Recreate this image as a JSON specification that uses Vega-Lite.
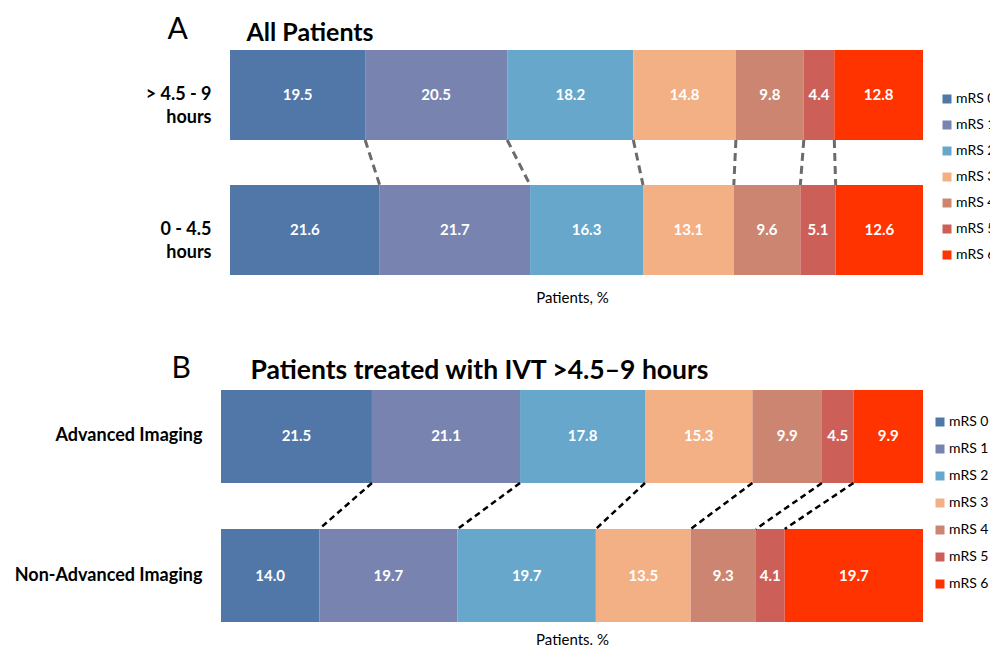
{
  "$schema": "https://vega.github.io/schema/vega-lite/v6.json",
  "background": "white",
  "padding": {"left": 14, "top": 14, "right": 0, "bottom": 0},
  "spacing": 48,
  "config": {
    "font": "Lato",
    "view": {"stroke": null},
    "axis": {"grid": false}
  },
  "datasets": {
    "d": [
      {"panel": "A", "group": "> 4.5 - 9 hours", "row": "top", "mrs": "mRS 0", "value": 19.5},
      {"panel": "A", "group": "> 4.5 - 9 hours", "row": "top", "mrs": "mRS 1", "value": 20.5},
      {"panel": "A", "group": "> 4.5 - 9 hours", "row": "top", "mrs": "mRS 2", "value": 18.2},
      {"panel": "A", "group": "> 4.5 - 9 hours", "row": "top", "mrs": "mRS 3", "value": 14.8},
      {"panel": "A", "group": "> 4.5 - 9 hours", "row": "top", "mrs": "mRS 4", "value": 9.8},
      {"panel": "A", "group": "> 4.5 - 9 hours", "row": "top", "mrs": "mRS 5", "value": 4.4},
      {"panel": "A", "group": "> 4.5 - 9 hours", "row": "top", "mrs": "mRS 6", "value": 12.8},
      {"panel": "A", "group": "0 - 4.5 hours", "row": "bottom", "mrs": "mRS 0", "value": 21.6},
      {"panel": "A", "group": "0 - 4.5 hours", "row": "bottom", "mrs": "mRS 1", "value": 21.7},
      {"panel": "A", "group": "0 - 4.5 hours", "row": "bottom", "mrs": "mRS 2", "value": 16.3},
      {"panel": "A", "group": "0 - 4.5 hours", "row": "bottom", "mrs": "mRS 3", "value": 13.1},
      {"panel": "A", "group": "0 - 4.5 hours", "row": "bottom", "mrs": "mRS 4", "value": 9.6},
      {"panel": "A", "group": "0 - 4.5 hours", "row": "bottom", "mrs": "mRS 5", "value": 5.1},
      {"panel": "A", "group": "0 - 4.5 hours", "row": "bottom", "mrs": "mRS 6", "value": 12.6},
      {"panel": "B", "group": "Advanced Imaging", "row": "top", "mrs": "mRS 0", "value": 21.5},
      {"panel": "B", "group": "Advanced Imaging", "row": "top", "mrs": "mRS 1", "value": 21.1},
      {"panel": "B", "group": "Advanced Imaging", "row": "top", "mrs": "mRS 2", "value": 17.8},
      {"panel": "B", "group": "Advanced Imaging", "row": "top", "mrs": "mRS 3", "value": 15.3},
      {"panel": "B", "group": "Advanced Imaging", "row": "top", "mrs": "mRS 4", "value": 9.9},
      {"panel": "B", "group": "Advanced Imaging", "row": "top", "mrs": "mRS 5", "value": 4.5},
      {"panel": "B", "group": "Advanced Imaging", "row": "top", "mrs": "mRS 6", "value": 9.9},
      {"panel": "B", "group": "Non-Advanced Imaging", "row": "bottom", "mrs": "mRS 0", "value": 14.0},
      {"panel": "B", "group": "Non-Advanced Imaging", "row": "bottom", "mrs": "mRS 1", "value": 19.7},
      {"panel": "B", "group": "Non-Advanced Imaging", "row": "bottom", "mrs": "mRS 2", "value": 19.7},
      {"panel": "B", "group": "Non-Advanced Imaging", "row": "bottom", "mrs": "mRS 3", "value": 13.5},
      {"panel": "B", "group": "Non-Advanced Imaging", "row": "bottom", "mrs": "mRS 4", "value": 9.3},
      {"panel": "B", "group": "Non-Advanced Imaging", "row": "bottom", "mrs": "mRS 5", "value": 4.1},
      {"panel": "B", "group": "Non-Advanced Imaging", "row": "bottom", "mrs": "mRS 6", "value": 19.7}
    ]
  },
  "resolve": {"legend": {"color": "independent"}},
  "vconcat": [
    {
      "width": 702,
      "height": 225,
      "data": {"name": "d"},
      "transform": [{"filter": "datum.panel == 'A'"}],
      "resolve": {"axis": {"x": "independent"}},
      "layer": [
        {
          "mark": {"type": "bar"},
          "encoding": {
            "y": {"field": "group", "type": "nominal", "sort": null,
              "scale": {"paddingInner": 0.3333, "paddingOuter": 0},
              "axis": {"title": "A", "titleAngle": 0, "titleAlign": "left", "titleBaseline": "alphabetic", "titleX": -54, "titleY": -12, "titleFontSize": 30, "titleFontWeight": "normal", "titleColor": "#000",
                "labelFontSize": 18, "labelFontWeight": "bold", "labelColor": "#000", "labelPadding": 10, "labelLimit": 300, "ticks": false, "domain": false, "labelLineHeight": 23,
                "labelExpr": "indexof(datum.label, 'hours') > 0 ? [replace(datum.label, ' hours', ''), 'hours'] : datum.label"}},
            "x": {"field": "value", "type": "quantitative", "stack": "zero",
              "scale": {"domain": [-1.3, 100], "nice": false},
              "axis": {"orient": "bottom", "title": "Patients, %", "labels": false, "ticks": false, "domain": false, "titleFontSize": 15, "titleFontWeight": "normal", "titleColor": "#000", "titlePadding": 15}},
            "order": {"field": "mrs"},
            "color": {"field": "mrs", "type": "nominal",
              "scale": {"domain": ["mRS 0", "mRS 1", "mRS 2", "mRS 3", "mRS 4", "mRS 5", "mRS 6"],
                "range": ["#5176A8", "#7884AF", "#67A7CC", "#F3B084", "#CC8570", "#CD5F59", "#FF3300"]},
              "legend": {"title": null, "orient": "none", "legendX": 719, "legendY": 42, "symbolType": "square", "symbolSize": 81, "symbolStrokeWidth": 0, "labelFontSize": 14, "labelColor": "#000", "rowPadding": 12, "labelOffset": 2}}
          }
        },
        {
          "mark": {"type": "text", "color": "white", "fontWeight": "bold", "fontSize": 15},
          "encoding": {
            "y": {"field": "group", "type": "nominal", "sort": null},
            "x": {"field": "value", "type": "quantitative", "stack": "zero", "bandPosition": 0.5,
              "axis": {"orient": "top", "title": "All Patients", "labels": false, "ticks": false, "domain": false, "titleAnchor": "start", "titleAlign": "left", "titleBaseline": "alphabetic", "titleX": 25, "titleY": -10, "titleFontSize": 25, "titleFontWeight": "bold", "titleColor": "#000"}},
            "order": {"field": "mrs"},
            "detail": {"field": "mrs"},
            "text": {"field": "value", "type": "quantitative", "format": ".1f"}
          }
        },
        {
          "transform": [
            {"stack": "value", "groupby": ["group"], "sort": [{"field": "mrs", "order": "ascending"}], "as": ["x0", "x1"]},
            {"filter": "datum.mrs != 'mRS 6'"},
            {"pivot": "row", "value": "x1", "groupby": ["mrs"]}
          ],
          "mark": {"type": "rule", "color": "#6b6b6b", "strokeWidth": 3, "strokeDash": [8, 5], "yOffset": 45, "y2Offset": -45},
          "encoding": {
            "x": {"field": "top", "type": "quantitative", "axis": null},
            "x2": {"field": "bottom"},
            "y": {"datum": "> 4.5 - 9 hours", "type": "nominal"},
            "y2": {"datum": "0 - 4.5 hours"}
          }
        }
      ]
    },
    {
      "width": 702,
      "height": 232,
      "data": {"name": "d"},
      "transform": [{"filter": "datum.panel == 'B'"}],
      "resolve": {"axis": {"x": "independent"}},
      "layer": [
        {
          "mark": {"type": "bar"},
          "encoding": {
            "y": {"field": "group", "type": "nominal", "sort": null,
              "scale": {"paddingInner": 0.331, "paddingOuter": 0},
              "axis": {"title": "B", "titleAngle": 0, "titleAlign": "left", "titleBaseline": "alphabetic", "titleX": -50, "titleY": -13, "titleFontSize": 30, "titleFontWeight": "normal", "titleColor": "#000",
                "labelFontSize": 18, "labelFontWeight": "bold", "labelColor": "#000", "labelPadding": 19, "labelLimit": 300, "ticks": false, "domain": false}},
            "x": {"field": "value", "type": "quantitative", "stack": "zero",
              "scale": {"domain": [0, 100], "nice": false},
              "axis": {"orient": "bottom", "title": "Patients. %", "labels": false, "ticks": false, "domain": false, "titleFontSize": 15, "titleFontWeight": "normal", "titleColor": "#000", "titlePadding": 10}},
            "order": {"field": "mrs"},
            "color": {"field": "mrs", "type": "nominal",
              "scale": {"domain": ["mRS 0", "mRS 1", "mRS 2", "mRS 3", "mRS 4", "mRS 5", "mRS 6"],
                "range": ["#5176A8", "#7884AF", "#67A7CC", "#F3B084", "#CC8570", "#CD5F59", "#FF3300"]},
              "legend": {"title": null, "orient": "none", "legendX": 712, "legendY": 25, "symbolType": "square", "symbolSize": 81, "symbolStrokeWidth": 0, "labelFontSize": 14, "labelColor": "#000", "rowPadding": 13, "labelOffset": 2}}
          }
        },
        {
          "mark": {"type": "text", "color": "white", "fontWeight": "bold", "fontSize": 15},
          "encoding": {
            "y": {"field": "group", "type": "nominal", "sort": null},
            "x": {"field": "value", "type": "quantitative", "stack": "zero", "bandPosition": 0.5,
              "axis": {"orient": "top", "title": "Patients treated with IVT >4.5–9 hours", "labels": false, "ticks": false, "domain": false, "titleAnchor": "start", "titleAlign": "left", "titleBaseline": "alphabetic", "titleX": 29, "titleY": -12, "titleFontSize": 26.5, "titleFontWeight": "bold", "titleColor": "#000"}},
            "order": {"field": "mrs"},
            "detail": {"field": "mrs"},
            "text": {"field": "value", "type": "quantitative", "format": ".1f"}
          }
        },
        {
          "transform": [
            {"stack": "value", "groupby": ["group"], "sort": [{"field": "mrs", "order": "ascending"}], "as": ["x0", "x1"]},
            {"filter": "datum.mrs != 'mRS 6'"},
            {"pivot": "row", "value": "x1", "groupby": ["mrs"]}
          ],
          "mark": {"type": "rule", "color": "#000", "strokeWidth": 2.5, "strokeDash": [6, 4], "yOffset": 46.5, "y2Offset": -46.5},
          "encoding": {
            "x": {"field": "top", "type": "quantitative", "axis": null},
            "x2": {"field": "bottom"},
            "y": {"datum": "Advanced Imaging", "type": "nominal"},
            "y2": {"datum": "Non-Advanced Imaging"}
          }
        }
      ]
    }
  ]
}
